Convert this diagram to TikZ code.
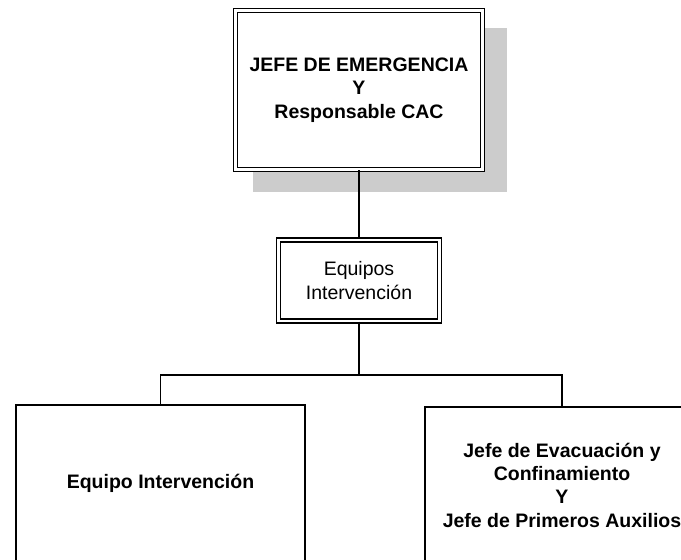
\documentclass[tikz,border=0pt]{standalone}
\usepackage{fontspec}
\setmainfont{Liberation Sans}
\begin{document}
\begin{tikzpicture}[x=1pt,y=-1pt,
  dbox/.style={draw, double, line width=1.4pt, double distance=2.3pt, inner sep=0pt, align=center, fill=white},
  sbox/.style={draw, line width=1.5pt, inner sep=0pt, align=center, fill=white},
  conn/.style={line width=1.6pt},
  txt/.style={font=\fontsize{19.5}{23.3}\selectfont},
  btxt/.style={font=\bfseries\fontsize{19.5}{23.3}\selectfont}]
\useasboundingbox (0,0) rectangle (681,560);
\clip (0,0) rectangle (681,560);
% shadow of the top box
\fill[black!20] (253,28) rectangle (507,192);
\node[dbox, btxt, minimum width=247pt, minimum height=159pt] (jefe) at (359,90)
  {JEFE DE EMERGENCIA\\Y\\Responsable CAC};
\node[dbox, txt, minimum width=161pt, minimum height=81pt] (equipos) at (359,280.5)
  {Equipos\\Intervención};
\node[sbox, btxt, minimum width=289pt, minimum height=156pt] (izq) at (160.5,483)
  {Equipo Intervención};
\node[sbox, btxt, minimum width=274pt, minimum height=156pt] (der) at (562,485)
  {Jefe de Evacuación y\\Confinamiento\\Y\\Jefe de Primeros Auxilios};
\coordinate (bus) at (359,375);
\draw[conn] (jefe.south) -- (equipos.north);
\draw[conn] (equipos.south) -- (bus);
\draw[conn] (izq.north) |- (bus) -| (der.north);
\end{tikzpicture}
\end{document}
